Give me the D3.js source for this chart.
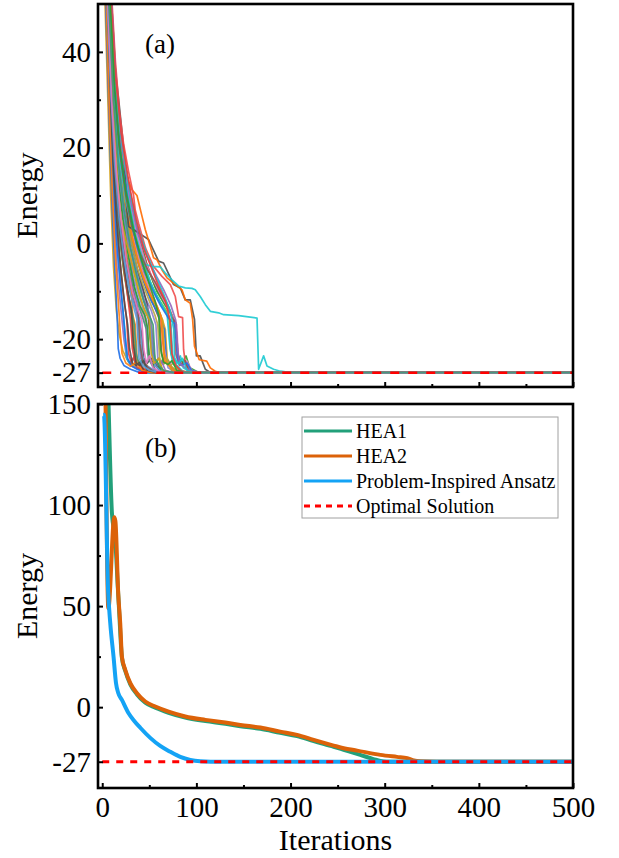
<!DOCTYPE html>
<html>
<head>
<meta charset="utf-8">
<script src="https://cdn.jsdelivr.net/npm/d3@7"></script>
<style>
  body { margin: 0; background: #fff; }
  svg { display: block; }
  text { font-family: "Liberation Serif", "Times New Roman", Times, serif; }
</style>
</head>
<body>
<svg id="chart" width="619" height="858"></svg>
<script>
// ---- data ----
const optimum = -27;
const lastIter = 500;

const xMajor = [0, 100, 200, 300, 400, 500];
const xMinor = [50, 150, 250, 350, 450];
const yMajorA = [40, 20, 0, -20, -27];
const yMinorA = [30, 10, -10];
const yMajorB = [150, 100, 50, 0, -27];
const yMinorB = [125, 75, 25];

// panel (a): individual optimisation runs, [iteration, energy]
// every run then stays on the optimum up to lastIter
const runs = [
  [[0,70],[3,50],[6,30],[9,10],[12,-5],[15,-14],[18,-19],[22,-22.5],[28,-24.8],[35,-25.8],[45,-26.4],[57,-27]],
  [[0,80],[4,48],[8,22],[11,5],[14,-8],[16,-16],[17,-22],[19,-24],[23,-25.5],[30,-26.3],[40,-27]],
  [[0,75],[4,52],[8,25],[12,8],[16,-6],[20,-14],[23,-20],[26,-24],[30,-25.5],[38,-26.2],[50,-27]],
  [[0,90],[5,48],[9,28],[13,10],[17,-3],[21,-12],[24,-18],[26,-24],[29,-25],[33,-24],[37,-26],[48,-27]],
  [[0,85],[5,50],[10,24],[14,8],[18,-2],[22,-10],[26,-16],[28,-23],[31,-25],[34,-23.5],[37,-26],[45,-26.5],[55,-27]],
  [[0,100],[6,50],[10,30],[14,12],[18,2],[23,-6],[28,-12],[32,-16],[34,-22],[36,-25],[40,-25.5],[44,-24.5],[48,-26.5],[60,-27]],
  [[0,95],[6,46],[10,26],[14,12],[19,1],[24,-7],[30,-13],[35,-17],[37,-24],[41,-25.5],[45,-24.5],[50,-26.5],[62,-27]],
  [[0,110],[7,50],[11,28],[15,14],[20,3],[26,-5],[32,-11],[38,-15],[42,-19],[44,-24],[48,-25],[52,-24],[56,-26.5],[66,-27]],
  [[0,90],[5,50],[9,30],[13,15],[18,4],[24,-4],[30,-10],[36,-14],[40,-16],[42,-23],[46,-25.5],[52,-26.5],[62,-27]],
  [[0,100],[6,52],[10,32],[14,17],[20,5],[26,-3],[33,-9],[40,-13],[46,-17],[48,-23],[52,-25],[56,-24.8],[60,-26.5],[70,-27]],
  [[0,105],[7,50],[12,28],[16,16],[22,6],[29,-2],[36,-8],[43,-13],[50,-16],[53,-22],[56,-25],[60,-24],[64,-26.5],[75,-27]],
  [[0,95],[6,48],[11,27],[15,14],[21,3],[28,-5],[35,-11],[42,-15],[47,-18],[49,-24],[53,-25.5],[58,-26.8],[66,-27]],
  [[0,110],[7,50],[12,30],[17,17],[23,7],[30,-1],[38,-7],[45,-11],[52,-14],[57,-17],[59,-24],[63,-25],[67,-23.5],[70,-26],[78,-27]],
  [[0,100],[7,48],[12,26],[15,14],[17,16],[19,12],[24,3],[31,-4],[39,-9],[46,-13],[52,-16],[55,-23],[58,-25.5],[64,-26.7],[72,-27]],
  [[0,115],[8,50],[13,30],[18,18],[25,8],[33,0],[41,-6],[48,-10],[55,-13],[61,-16],[63,-23],[66,-25],[70,-24.5],[74,-26.5],[84,-27]],
  [[0,120],[8,52],[13,33],[19,20],[26,10],[34,1],[42,-5],[50,-10],[57,-13],[64,-16],[67,-18],[69,-24],[73,-25.5],[77,-24.5],[81,-26.5],[90,-27]],
  [[0,110],[8,48],[13,29],[19,16],[27,6],[35,-2],[44,-8],[52,-12],[60,-15],[66,-18],[68,-24],[72,-25.5],[78,-26.7],[88,-27]],
  [[0,105],[7,50],[12,30],[17,16],[23,6],[29,-3],[33,-8],[36,-12],[38,-19],[41,-24],[45,-25.5],[55,-26.5],[65,-27]],
  [[0,120],[9,50],[14,32],[20,19],[28,9],[37,0],[46,-6],[55,-10],[63,-13],[70,-15],[73,-17],[75,-24],[79,-25],[83,-23.5],[86,-26],[95,-27]],
  [[0,120],[9,52],[14,34],[20,22],[28,12],[37,3],[47,-4],[56,-9],[65,-12],[72,-14],[76,-16],[78,-23],[82,-25.5],[87,-24.5],[91,-26.5],[100,-27]],
  [[0,125],[10,50],[15,33],[21,21],[29,11],[38,2],[48,-5],[58,-10],[67,-13],[74,-15],[78,-17],[81,-24],[85,-25],[89,-23.5],[93,-26],[103,-27]],
  [[0,95],[6,50],[10,30],[15,15],[20,5],[26,-3],[31,-10],[33,-18],[35,-24],[39,-25.5],[47,-26.5],[58,-27]],
  [[0,110],[8,50],[13,31],[18,18],[24,8],[31,0],[38,-6],[44,-10],[48,-13],[51,-20],[54,-24],[58,-25.5],[65,-26.7],[75,-27]],
  [[0,100],[7,50],[11,30],[16,16],[22,6],[27,-1],[33,-8],[37,-12],[39,-20],[42,-24],[47,-25.5],[55,-26.5],[68,-27]],
  [[0,115],[8,50],[13,31],[18,19],[25,9],[33,1],[41,-5],[49,-9],[56,-12],[62,-15],[65,-21],[68,-24.5],[72,-25.2],[76,-24.3],[80,-26.5],[92,-27]],
  [[0,118],[9,50],[14,32],[20,20],[27,10],[36,1],[45,-5],[53,-9],[61,-12],[68,-14],[71,-16],[73,-23],[77,-25.5],[84,-26.7],[96,-27]],
  [[0,92],[5,50],[9,29],[13,14],[17,4],[22,-4],[27,-10],[31,-14],[34,-17],[36,-23],[39,-25.2],[43,-24.3],[47,-26.4],[56,-27]],
  [[0,104],[7,50],[11,31],[15,18],[21,7],[27,-1],[33,-7],[39,-11],[44,-14],[47,-16],[49,-22],[52,-25],[56,-25.6],[62,-26.7],[70,-27]],
  [[0,112],[8,51],[12,33],[17,20],[23,10],[30,1],[37,-5],[44,-9],[50,-12],[56,-15],[59,-17],[61,-24],[65,-25.3],[69,-24.2],[73,-26.4],[82,-27]],
  [[0,98],[6,49],[10,29],[14,15],[19,5],[25,-3],[30,-8],[35,-12],[38,-14],[40,-21],[43,-24.6],[48,-25.8],[56,-27]],
  [[0,116],[8,50],[13,31],[18,19],[25,9],[32,1],[40,-5],[47,-9],[54,-12],[60,-14],[64,-16],[66,-23],[69,-25],[74,-25.8],[80,-26.8],[88,-27]],
  [[0,86],[5,46],[8,27],[12,12],[15,1],[19,-8],[22,-14],[24,-19],[27,-24],[31,-25.6],[37,-26.3],[46,-27]],
  [[0,108],[7,51],[12,32],[16,19],[22,9],[28,1],[34,-5],[40,-9],[45,-12],[50,-14.5],[53,-19],[55,-24],[59,-25.5],[63,-24.6],[67,-26.5],[76,-27]],
  [[0,120],[9,50],[14,33],[20,21],[27,11],[35,3],[43,-3],[51,-8],[58,-11],[64,-13],[69,-15],[72,-22],[75,-25],[80,-25.6],[86,-26.8],[96,-27]],
  [[0,94],[6,50],[10,29],[14,14],[18,4],[23,-5],[27,-11],[30,-16],[32,-22],[35,-25],[40,-25.6],[46,-26.5],[55,-27]],
  [[0,102],[6,50],[11,28],[16,15],[22,5],[28,-3],[34,-9],[40,-13],[45,-15],[48,-17.5],[50,-24],[54,-25.5],[58,-24.5],[62,-26.4],[70,-27]],
  [[0,114],[8,52],[13,32],[18,20],[24,10],[31,2],[38,-4],[45,-8],[52,-11],[58,-13],[62,-15],[64,-20],[66,-24.5],[70,-25.4],[76,-26.6],[86,-27]],
  [[0,90],[5,48],[9,28],[12,15],[16,3],[20,-6],[24,-13],[27,-17],[29,-22],[32,-25],[36,-25.5],[40,-24.8],[44,-26.5],[52,-27]],
  [[0,106],[7,50],[12,30],[17,17],[23,7],[29,0],[35,-5],[41,-10],[47,-14],[51,-16],[53,-23],[56,-25.4],[61,-26.5],[70,-27]],
  [[0,124],[10,50],[15,32],[21,20],[29,10],[37,2],[46,-4],[55,-8],[63,-11],[70,-13.5],[75,-15.5],[79,-17],[81,-24],[85,-25.4],[90,-24.6],[95,-26.5],[104,-27]],
  [[0,130],[8,56],[13,38],[17.3,30.3],[22.6,20.2],[26.2,7],[28,3.5],[38.6,2.2],[49.2,0.8],[59.8,-3.7],[65.1,-4.1],[75.8,-8.6],[82.9,-9.3],[88.2,-11.8],[93.5,-11.8],[98,-15.9],[100,-23.5],[104,-23.5],[109.5,-26.3],[115,-27]],
  [[0,130],[8,55],[13,35],[19,22],[25,15],[28,13],[31.6,11.2],[36.9,10],[42.2,5.7],[45.7,2.9],[51,-0.6],[54.5,-3],[58.1,-3.4],[63.4,-5.5],[68.8,-7.2],[77.6,-8.6],[84.7,-9.7],[88.2,-11.8],[93.5,-12.5],[96,-15.9],[98,-21.5],[103,-24.3],[111,-24.6],[114.8,-26],[120,-26.7],[125,-27]],
  [[0,125],[9,55],[14,38],[18,28],[22.6,20.9],[28,15],[33.3,10],[35,7],[38.6,4.2],[46,-1],[54.5,-4.8],[63.4,-6.9],[72.3,-8.6],[77.6,-11.1],[81.1,-15.3],[85.3,-15.5],[86.4,-22.2],[88.2,-24.9],[93.5,-27]],
  [[0,115],[8,50],[13,30],[18,18],[25,9],[32,3],[40,-1.5],[45.7,-4.4],[52.8,-4.8],[61.6,-4.9],[67,-6.2],[74,-7.6],[81.1,-8.9],[88.2,-9.3],[95.3,-9.4],[98.8,-9.7],[104.1,-11.1],[109.5,-12.8],[114.8,-14.2],[123.6,-14.5],[128.9,-14.9],[145,-15.1],[164.4,-15.6],[166.1,-26.3],[171.4,-23.5],[175,-25.6],[182,-26.3],[189.2,-26.7],[200,-27]],
  [[0,118],[8,52],[13,32],[18,20],[25,10],[32,3],[40,-2],[48,-5.5],[56,-8],[64,-11],[70,-13],[74,-15.5],[78,-16.5],[80,-23],[84,-25.5],[88,-24.5],[92,-26.5],[100,-27]],
  [[0,110],[7,52],[11,33],[14,20],[17,11],[20,5],[26,0],[30,-3],[35,-7],[40,-11],[45,-14],[50,-16],[52,-23],[55,-25],[60,-24],[64,-26.5],[72,-27]],
  [[0,120],[9,50],[14,30],[20,18],[28,8],[36,0],[45,-6],[54,-10],[62,-13],[70,-15.5],[77,-16.8],[80,-24],[84,-25.5],[90,-25],[95,-26.6],[104,-27]],
  [[0,125],[10,50],[15,32],[21,20],[29,10],[38,2],[48,-3],[58,-7],[66,-10],[73,-13],[78,-16],[80,-22],[82,-25],[87,-25.8],[95,-26.7],[105,-27]],
  [[0,122],[9,50],[14,33],[20,22],[28,12],[37,4],[47,-2],[57,-7],[65,-10.5],[72,-14],[76,-18],[77,-24],[81,-25.2],[85,-24],[90,-26.5],[100,-27]],
  [[0,118],[9,52],[14,35],[20,23],[28,13],[36,5],[44,-1],[52,-5],[60,-9],[67,-12],[72,-16],[74,-23],[78,-25.5],[84,-26.7],[94,-27]],
  [[0,112],[8,52],[13,33],[18,21],[25,11],[33,3],[41,-3],[49,-8],[56,-12],[60,-15],[62,-22],[65,-24.8],[70,-25.3],[74,-24.5],[79,-26.5],[88,-27]],
  [[0,88],[5,45],[8,25],[11,9],[14,-3],[17,-12],[19,-18],[21,-23],[25,-25],[30,-25.7],[36,-24.8],[42,-26.5],[52,-27]],
  [[0,100],[6,48],[10,28],[14,13],[19,2],[24,-6],[28,-11],[31,-14],[33,-21],[36,-25],[40,-25.5],[44,-24.5],[48,-26.5],[58,-27]],
  [[0,95],[5,52],[9,32],[13,17],[18,5],[23,-3],[28,-9],[33,-13],[37,-16],[39,-24],[43,-25.5],[50,-26.5],[60,-27]],
  [[0,102],[6,50],[10,30],[15,15],[20,5],[26,-4],[32,-10],[38,-14],[42,-16],[44,-22],[47,-25],[50,-23.5],[54,-26],[63,-27]],
  [[0,108],[7,50],[12,30],[17,17],[23,7],[30,-1],[37,-7],[44,-12],[50,-15],[54,-17],[56,-24],[60,-25.5],[66,-26.7],[76,-27]]
];

// panel (b)
const hea1 = [[5,180],[6.7,150],[10.3,96],[13.8,83],[16.7,58],[17.8,49],[20.9,24.5],[24.4,18],[29.8,11.3],[36.9,6.3],
  [45.7,2.2],[56.3,-0.3],[70.5,-2.8],[88.2,-5.2],[109.5,-6.9],[130.7,-8.2],[146.7,-9.4],[168,-10.7],[189,-12.7],
  [206.9,-14.3],[224.6,-16.8],[245.8,-19.6],[256.4,-21.1],[274,-23.6],[288,-25.7],[299,-26.9],[305,-27],[500,-27]];
const hea2 = [[3,180],[6.5,49],[12.8,94],[14,92],[17,56],[19.1,41.6],[20.9,25],[24.4,18.5],[29.8,11.9],[36.9,6.9],
  [45.7,2.8],[56.3,0.3],[70.5,-2.2],[88.2,-4.6],[109.5,-6.3],[130.7,-7.6],[146.7,-8.8],[168,-10.1],[189,-12.1],
  [206.9,-13.7],[224.6,-16.2],[245.8,-19],[256.4,-20.3],[270.7,-21.5],[295.4,-23.6],[313,-24.6],[324,-25.2],
  [331,-26.4],[338,-26.8],[355,-27],[500,-27]];
const pia = [[1,144.7],[1.8,144.7],[6.2,58],[8.5,41.7],[12,25],[14.6,12],[17,7],[20.9,3.6],[28,-3],[34,-6.8],
  [40.4,-10.2],[51,-15.2],[61.6,-19.2],[72.3,-22.1],[82.9,-24.6],[93.5,-26.1],[104,-26.8],[115,-27],[500,-27]];
const optimalLine = [[0, optimum], [500, optimum]];

const legendLabels = ["HEA1", "HEA2", "Problem-Inspired Ansatz", "Optimal Solution"];

// ---- styles ----
const runPalette = ["#d4a017", "#1f6fe8", "#9467bd", "#17c7d2", "#ee3b3b", "#2ca02c", "#ff7f0e", "#4d4d4d",
  "#5b9bd5", "#e377c2", "#8cbf26", "#3a9a7a", "#8c7fd0", "#b5a642", "#8c564b"];
// the few runs that stand out in the picture
const runColorOverride = { 40: "#4d4d4d", 41: "#ff6a00", 42: "#f04c4c", 43: "#1ccad2", 55: "#3a9a7a" };
const seriesB = [
  { data: hea1, color: "#22a07a", width: 4 },
  { data: hea2, color: "#dc6209", width: 4 },
  { data: pia, color: "#14a3f5", width: 4 }
];

const svg = d3.select("#chart");
const left = 98, right = 573;
const x = d3.scaleLinear().domain([-4.5, 500]).range([left, right]);
const yA = d3.scaleLinear().domain([-30, 50]).range([387, 4]);
const yB = d3.scaleLinear().domain([-40, 150]).range([788, 404]);

function panel(id, y) {
  const [bottom, top] = y.range();
  svg.append("clipPath").attr("id", id)
    .append("rect").attr("x", left).attr("y", top).attr("width", right - left).attr("height", bottom - top);
  return svg.append("g").attr("clip-path", `url(#${id})`);
}

function axes(y, major, minor, labelsX) {
  const [bottom, top] = y.range();
  const styleAxis = g => {
    g.select(".domain").remove();
    g.attr("font-family", null).attr("font-size", 29);
    g.selectAll("line").attr("stroke", "#000").attr("stroke-width", 2);
    g.selectAll("text").attr("fill", "#000");
  };
  svg.append("g").attr("transform", `translate(${left},0)`)
    .call(d3.axisLeft(y).tickValues(major).tickSize(-5).tickPadding(7).tickFormat(d => String(d)))
    .call(styleAxis);
  svg.append("g").attr("transform", `translate(${left},0)`)
    .call(d3.axisLeft(y).tickValues(minor).tickSize(-3).tickFormat(""))
    .call(styleAxis);
  svg.append("g").attr("transform", `translate(0,${bottom})`)
    .call(d3.axisBottom(x).tickValues(xMajor).tickSize(-5).tickPadding(8.5)
      .tickFormat(labelsX ? (d => String(d)) : ""))
    .call(styleAxis);
  svg.append("g").attr("transform", `translate(0,${bottom})`)
    .call(d3.axisBottom(x).tickValues(xMinor).tickSize(-3).tickFormat(""))
    .call(styleAxis);
  svg.append("rect").attr("x", left).attr("y", top).attr("width", right - left).attr("height", bottom - top)
    .attr("fill", "none").attr("stroke", "#000").attr("stroke-width", 2.6);
  svg.append("text").attr("transform", `translate(37,${(top + bottom) / 2}) rotate(-90)`)
    .attr("text-anchor", "middle").attr("font-size", 30).text("Energy");
}

// ---- panel (a) ----
const lineA = d3.line().x(d => x(d[0])).y(d => yA(d[1]));
const gA = panel("clipA", yA);
runs.forEach((r, i) => {
  const c = runColorOverride[i] || runPalette[i % runPalette.length];
  gA.append("path").attr("d", lineA(r.concat([[lastIter, optimum]])))
    .attr("fill", "none").attr("stroke", c)
    .attr("stroke-width", 1.7).attr("stroke-opacity", 0.9).attr("stroke-linejoin", "round");
});
gA.append("path").attr("d", lineA(optimalLine))
  .attr("fill", "none").attr("stroke", "#ff0000").attr("stroke-width", 2.5).attr("stroke-dasharray", "9,9");
axes(yA, yMajorA, yMinorA, false);
svg.append("text").attr("x", 145).attr("y", 53).attr("font-size", 27).text("(a)");

// ---- panel (b) ----
const lineB = d3.line().x(d => x(d[0])).y(d => yB(d[1])).curve(d3.curveMonotoneX);
const gB = panel("clipB", yB);
seriesB.forEach(s => {
  gB.append("path").attr("d", lineB(s.data)).attr("fill", "none")
    .attr("stroke", s.color).attr("stroke-width", s.width).attr("stroke-linejoin", "round");
});
gB.append("path").attr("d", lineB(optimalLine))
  .attr("fill", "none").attr("stroke", "#ff0000").attr("stroke-width", 3).attr("stroke-dasharray", "7,7");
axes(yB, yMajorB, yMinorB, true);
svg.append("text").attr("x", 145).attr("y", 457).attr("font-size", 27).text("(b)");
svg.append("text").attr("x", (left + right) / 2).attr("y", 850).attr("text-anchor", "middle")
  .attr("font-size", 30).text("Iterations");

// ---- legend ----
const leg = svg.append("g");
leg.append("rect").attr("x", 302).attr("y", 417).attr("width", 256).attr("height", 101)
  .attr("fill", "#fff").attr("stroke", "#a0a0a0").attr("stroke-width", 1);
const legStyles = seriesB.map(s => ({ color: s.color, dash: null }))
  .concat([{ color: "#ff0000", dash: "6,5" }]);
legendLabels.forEach((lab, i) => {
  const ly = 431 + i * 25;
  leg.append("line").attr("x1", 304).attr("x2", 352).attr("y1", ly).attr("y2", ly)
    .attr("stroke", legStyles[i].color).attr("stroke-width", 3)
    .attr("stroke-dasharray", legStyles[i].dash);
  leg.append("text").attr("x", 356).attr("y", ly + 7).attr("font-size", 20).text(lab);
});
</script>
</body>
</html>
